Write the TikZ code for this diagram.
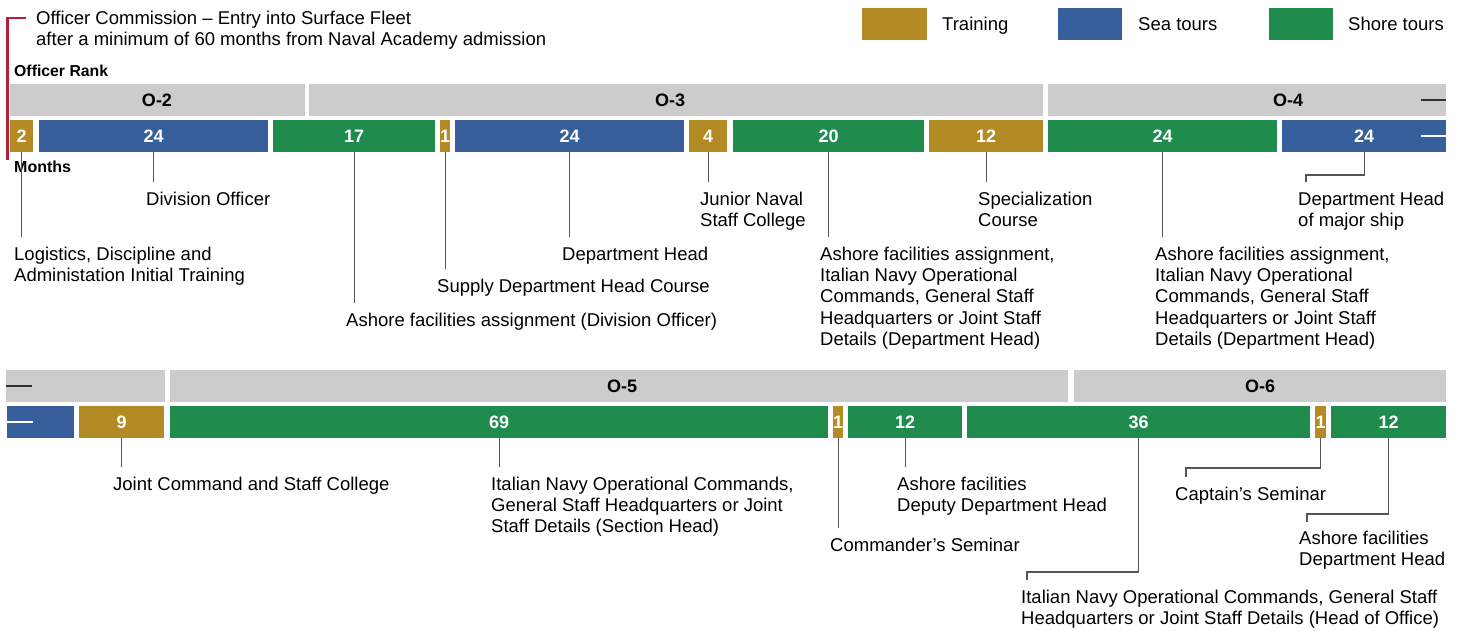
\documentclass[tikz,border=0pt]{standalone}
\usepackage{fontspec}
\setmainfont{Liberation Sans}
\usetikzlibrary{calc}
\definecolor{cTrain}{HTML}{B48A24}
\definecolor{cSea}{HTML}{365F9C}
\definecolor{cShore}{HTML}{1F8C4E}
\definecolor{cGrey}{HTML}{CCCCCC}
\definecolor{cLead}{HTML}{555555}
\definecolor{cRed}{HTML}{B81E38}
\definecolor{cDash}{HTML}{333333}
\tikzset{
  lbl/.style={anchor=north west, inner sep=0pt, align=left, font=\fontsize{18.5}{21.3}\selectfont,
    execute at begin node={\rule{0pt}{14pt}}},
  ranktxt/.style={inner sep=0pt, font=\bfseries\fontsize{18}{20}\selectfont},
  rankbar/.style={fill=cGrey, inner sep=0pt, anchor=north west, minimum height=32pt},
  monthbar/.style={inner sep=0pt, anchor=north west, minimum height=32pt, text=white, font=\bfseries\fontsize{18}{20}\selectfont},
  lead/.style={draw=cLead, line width=1.2pt},
  legbox/.style={inner sep=0pt, anchor=north west, minimum width=65pt, minimum height=32pt},
  headtxt/.style={anchor=base west, inner sep=0pt, font=\bfseries\fontsize{16}{18}\selectfont},
}
\newcommand\mbar[6]{\node[monthbar, fill=#4, minimum width={(#3-#2)*1pt}] (#1) at (#2,#6) {#5};}
\newcommand\rbar[4]{\node[rankbar, minimum width={(#3-#2)*1pt}] (#1) at (#2,#4) {};}
\begin{document}
\begin{tikzpicture}[x=1pt,y=-1pt]
\useasboundingbox (0,0) rectangle (1464,631);
\fill[white] (0,0) rectangle (1464,631);

% header
\node[lbl] (head) at (36,10.5) {Officer Commission -- Entry into Surface Fleet\\after a minimum of 60 months from Naval Academy admission};
\draw[cRed, line width=2.6pt] (26,18) -- (7.5,18) -- (7.5,160);
\node[headtxt, font=\bfseries\fontsize{15.8}{18}\selectfont] (rk) at (14,76.5) {Officer Rank};
\node[headtxt] (mo) at (14,172.5) {Months};

% legend
\node[legbox, fill=cTrain] (lgT) at (862,8) {};
\node[lbl] (lgTt) at (942,16.5) {Training};
\node[legbox, fill=cSea, minimum width=64pt] (lgS) at (1058,8) {};
\node[lbl] (lgSt) at (1138,16.5) {Sea tours};
\node[legbox, fill=cShore, minimum width=64pt] (lgH) at (1269,8) {};
\node[lbl] (lgHt) at (1348,16.5) {Shore tours};

% ---------- top row ----------
\rbar{r2}{10}{305}{84}
\rbar{r3}{309}{1043}{84}
\rbar{r4}{1048}{1446}{84}
\node[ranktxt] at (157,100) {O-2};
\node[ranktxt] at (670,100) {O-3};
\node[ranktxt] at (1288,100) {O-4};

\mbar{b1}{10}{33}{cTrain}{2}{120}
\mbar{b2}{39}{268}{cSea}{24}{120}
\mbar{b3}{273}{435}{cShore}{17}{120}
\mbar{b4}{440}{450}{cTrain}{1}{120}
\mbar{b5}{455}{684}{cSea}{24}{120}
\mbar{b6}{689}{727}{cTrain}{4}{120}
\mbar{b7}{733}{924}{cShore}{20}{120}
\mbar{b8}{929}{1043}{cTrain}{12}{120}
\mbar{b9}{1048}{1277}{cShore}{24}{120}
\mbar{b10}{1282}{1446}{cSea}{24}{120}

\draw[cDash, line width=2.5pt] ($(r4.east)+(-25,0)$) -- (r4.east);
\draw[white, line width=2.5pt] ($(b10.east)+(-25,0)$) -- (b10.east);

\node[lbl] (l1) at (14,246.5) {Logistics, Discipline and\\Administation Initial Training};
\node[lbl] (l2) at (146,191.5) {Division Officer};
\node[lbl] (l3) at (346,312.5) {Ashore facilities assignment (Division Officer)};
\node[lbl] (l4) at (437,278.5) {Supply Department Head Course};
\node[lbl] (l5) at (562,246.5) {Department Head};
\node[lbl] (l6) at (700,191.5) {Junior Naval\\Staff College};
\node[lbl] (l7) at (820,246.5) {Ashore facilities assignment,\\Italian Navy Operational\\Commands, General Staff\\Headquarters or Joint Staff\\Details (Department Head)};
\node[lbl] (l8) at (978,191.5) {Specialization\\Course};
\node[lbl] (l9) at (1155,246.5) {Ashore facilities assignment,\\Italian Navy Operational\\Commands, General Staff\\Headquarters or Joint Staff\\Details (Department Head)};
\node[lbl] (l10) at (1298,191.5) {Department Head\\of major ship};

\foreach \i in {1,...,9}{
  \draw[lead] (b\i.south) -- ($(b\i.south |- l\i.north)+(0,-9.5)$);
}
\draw[lead] (b10.south) |- ($(l10.north west)+(8,-16.5)$) -- ($(l10.north west)+(8,-9.5)$);

% ---------- bottom row ----------
\rbar{r0}{6}{165}{370}
\rbar{r5}{170}{1068}{370}
\rbar{r6}{1074}{1446}{370}
\node[ranktxt] at (622,386) {O-5};
\node[ranktxt] at (1260,386) {O-6};

\mbar{b0}{7}{74}{cSea}{}{406}
\mbar{b11}{79}{164}{cTrain}{9}{406}
\mbar{b12}{170}{828}{cShore}{69}{406}
\mbar{b13}{833}{843}{cTrain}{1}{406}
\mbar{b14}{848}{962}{cShore}{12}{406}
\mbar{b15}{967}{1310}{cShore}{36}{406}
\mbar{b16}{1315}{1326}{cTrain}{1}{406}
\mbar{b17}{1331}{1446}{cShore}{12}{406}

\draw[cDash, line width=2.5pt] (r0.west) -- ($(r0.west)+(26,0)$);
\draw[white, line width=2.5pt] (b0.west) -- ($(b0.west)+(26,0)$);

\node[lbl] (l11) at (113,476.5) {Joint Command and Staff College};
\node[lbl] (l12) at (491,476.5) {Italian Navy Operational Commands,\\General Staff Headquarters or Joint\\Staff Details (Section Head)};
\node[lbl] (l13) at (830,537.5) {Commander’s Seminar};
\node[lbl] (l14) at (897,476.5) {Ashore facilities\\Deputy Department Head};
\node[lbl] (l15) at (1021,589.5) {Italian Navy Operational Commands, General Staff\\Headquarters or Joint Staff Details (Head of Office)};
\node[lbl] (l16) at (1175,486) {Captain’s Seminar};
\node[lbl] (l17) at (1299,530.5) {Ashore facilities\\Department Head};

\foreach \i in {11,12,13,14}{
  \draw[lead] (b\i.south) -- ($(b\i.south |- l\i.north)+(0,-9.5)$);
}
\draw[lead] (b15.south) |- ($(l15.north west)+(6,-17.5)$) -- ($(l15.north west)+(6,-9.5)$);
\draw[lead] (b16.south) |- ($(l16.north west)+(11,-18)$) -- ($(l16.north west)+(11,-9)$);
\draw[lead] (b17.south) |- ($(l17.north west)+(8,-16.5)$) -- ($(l17.north west)+(8,-8.5)$);
\end{tikzpicture}
\end{document}
